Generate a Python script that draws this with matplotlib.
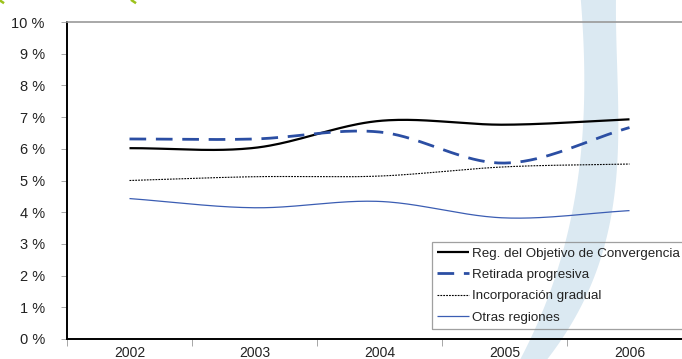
import numpy as np
import matplotlib
matplotlib.use("Agg")
import matplotlib.pyplot as plt
from matplotlib.patches import Polygon
from matplotlib.lines import Line2D
from matplotlib.ticker import FuncFormatter, FixedLocator

plt.rcParams['font.family'] = ['Liberation Sans', 'DejaVu Sans']

years = ["2002", "2003", "2004", "2005", "2006"]
convergencia = [6.02, 6.03, 6.88, 6.76, 6.93]
retirada = [6.31, 6.31, 6.53, 5.55, 6.67]
incorporacion = [5.00, 5.12, 5.14, 5.43, 5.52]
otras = [4.43, 4.14, 4.34, 3.82, 4.05]

series_labels = ["Reg. del Objetivo de Convergencia", "Retirada progresiva",
                 "Incorporación gradual", "Otras regiones"]


def smooth(ys, n=40):
    """Catmull-Rom curve through the points, like a spreadsheet 'smoothed line'."""
    ys = np.asarray(ys, float)
    xs = np.arange(len(ys), dtype=float)
    m = np.zeros_like(ys)
    m[1:-1] = (ys[2:] - ys[:-2]) / 2.0
    m[0] = ys[1] - ys[0]
    m[-1] = ys[-1] - ys[-2]
    ox, oy = [], []
    for i in range(len(ys) - 1):
        t = np.linspace(0, 1, n, endpoint=(i == len(ys) - 2))
        h00 = 2 * t**3 - 3 * t**2 + 1
        h10 = t**3 - 2 * t**2 + t
        h01 = -2 * t**3 + 3 * t**2
        h11 = t**3 - t**2
        oy.append(h00 * ys[i] + h10 * m[i] + h01 * ys[i + 1] + h11 * m[i + 1])
        ox.append(xs[i] + t)
    return np.concatenate(ox), np.concatenate(oy)


W, H = 682, 359
fig = plt.figure(figsize=(W / 100, H / 100), dpi=100)
fig.patch.set_facecolor("white")

# decorative light-blue sweep behind the chart (figure pixel outline)
edge_y = np.array([0, 50, 100, 150, 180, 240, 280, 320, 340, 359], float)
edge_l = np.array([581, 583, 585, 582, 576, 567, 553, 540, 530, 520], float)
edge_r = np.array([615, 618, 619, 618, 614, 605, 593, 577, 562, 545], float)
yy = np.linspace(-5, H + 5, 120)
lx = np.polyval(np.polyfit(edge_y, edge_l, 3), yy)
rx = np.polyval(np.polyfit(edge_y, edge_r, 3), yy)
pts = [(a / W, 1 - y / H) for a, y in zip(lx, yy)] + \
      [(b / W, 1 - y / H) for b, y in zip(rx[::-1], yy[::-1])]
fig.add_artist(Polygon(pts, closed=True, transform=fig.transFigure,
                       facecolor="#dbe9f2", edgecolor="none", zorder=-5))

# small green corner marks of the heading
for x0, x1 in [(0, 3), (132, 135)]:
    fig.add_artist(Line2D([x0 / W, x1 / W], [1 - 0.5 / H, 1 - 2.5 / H],
                          transform=fig.transFigure, color="#9cc21c", lw=1.8))

ax = fig.add_axes([67 / W, 1 - 339 / H, (692 - 67) / W, (339 - 22) / H])
ax.set_facecolor("none")
ax.set_zorder(2)

x = np.arange(len(years))
styles = [
    dict(color="black", lw=1.6, ls="-"),
    dict(color="#2b4ea3", lw=2.0, ls=(0, (6, 3.5))),
    dict(color="black", lw=0.8, ls=(0, (1.6, 1.0))),
    dict(color="#3b5db3", lw=0.9, ls="-"),
]
for ys, st, lab in zip([convergencia, retirada, incorporacion, otras], styles, series_labels):
    sx, sy = smooth(ys)
    ax.plot(sx, sy, label=lab, solid_capstyle="butt", **st)

ax.set_xlim(-0.5, len(years) - 0.5)
ax.set_ylim(0, 10)
ax.set_yticks(np.arange(0, 11, 1))
ax.yaxis.set_major_formatter(FuncFormatter(lambda v, p: f"{int(v)} %"))
ax.set_xticks(x)
ax.set_xticklabels(years)
ax.xaxis.set_minor_locator(FixedLocator(np.arange(-0.5, len(years), 1.0)))
ax.tick_params(axis="x", which="major", length=0, pad=5, labelsize=10, labelcolor="#222222")
ax.tick_params(axis="x", which="minor", length=5, width=0.6, color="#999999")
ax.tick_params(axis="y", length=4, width=0.6, color="#999999", pad=12,
               labelsize=10.5, labelcolor="#222222")

for s in ["left", "bottom"]:
    ax.spines[s].set_color("black")
    ax.spines[s].set_linewidth(1.4)
ax.spines["top"].set_color("#999999")
ax.spines["top"].set_linewidth(1.2)
ax.spines["right"].set_visible(False)

leg = ax.legend(loc="upper left", bbox_to_anchor=(432 / W, 1 - 242 / H),
                bbox_transform=fig.transFigure, fontsize=9.6, frameon=True,
                fancybox=False, borderaxespad=0, borderpad=0.4,
                handlelength=2.4, handletextpad=0.2, labelspacing=0.68)
leg.get_frame().set_edgecolor("#888888")
leg.get_frame().set_linewidth(0.9)
leg.get_frame().set_facecolor("none")
for t in leg.get_texts():
    t.set_color("#222222")

fig.savefig("out.png", dpi=100, facecolor="white")
